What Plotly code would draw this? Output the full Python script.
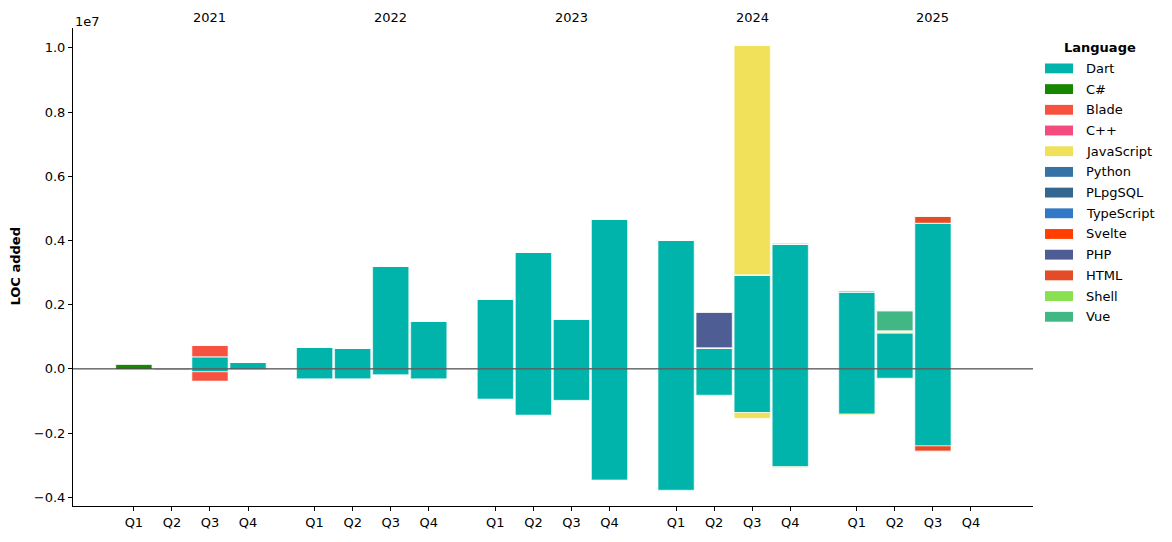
import plotly.graph_objects as go

years = ["2021", "2022", "2023", "2024", "2025"]
quarters = ["Q1", "Q2", "Q3", "Q4"]

languages = ["Dart", "C#", "Blade", "C++", "JavaScript", "Python", "PLpgSQL",
             "TypeScript", "Svelte", "PHP", "HTML", "Shell", "Vue"]
colors = ["#00B4AB", "#178600", "#f7523f", "#f34b7d", "#f1e05a", "#3572A5", "#336790",
          "#3178c6", "#ff3e00", "#4F5D95", "#e34c26", "#89e051", "#41b883"]

# LOC added (positive) per quarter, 2021Q1 .. 2025Q4
dart_add = [0, 0.03e6, 0.38e6, 0.20e6,
            0.683e6, 0.65e6, 3.20e6, 1.49e6,
            2.18e6, 3.64e6, 1.56e6, 4.67e6,
            4.01e6, 0.66e6, 2.93e6, 3.89e6,
            2.40e6, 1.13e6, 4.54e6, 0]
csharp_add = [0.165e6] + [0] * 19
blade_add = [0, 0, 0.37e6, 0] + [0] * 16
cpp_add = [0] * 16 + [0.04e6, 0, 0, 0]
js_add = [0] * 14 + [7.16e6, 0.05e6] + [0.02e6, 0.06e6, 0, 0]
python_add = [0] * 20
plpgsql_add = [0] * 20
ts_add = [0] * 20
svelte_add = [0] * 20
php_add = [0] * 13 + [1.12e6] + [0] * 6
html_add = [0] * 18 + [0.22e6, 0]
shell_add = [0] * 20
vue_add = [0] * 17 + [0.62e6, 0, 0]

# LOC removed (negative) per quarter
dart_del = [0, -0.03e6, -0.09e6, -0.02e6,
            -0.31e6, -0.31e6, -0.18e6, -0.31e6,
            -0.94e6, -1.44e6, -0.98e6, -3.46e6,
            -3.78e6, -0.82e6, -1.36e6, -3.05e6,
            -1.41e6, -0.29e6, -2.40e6, 0]
csharp_del = [0] * 20
blade_del = [0, 0, -0.29e6, 0] + [0] * 16
cpp_del = [0] * 20
js_del = [0] * 14 + [-0.18e6, -0.03e6] + [-0.03e6, 0, 0, 0]
python_del = [0] * 20
plpgsql_del = [0] * 20
ts_del = [0] * 20
svelte_del = [0] * 20
php_del = [0] * 20
html_del = [0] * 18 + [-0.165e6, 0]
shell_del = [0] * 18 + [-0.02e6, 0]
vue_del = [0] * 20

adds = [dart_add, csharp_add, blade_add, cpp_add, js_add, python_add, plpgsql_add,
        ts_add, svelte_add, php_add, html_add, shell_add, vue_add]
dels = [dart_del, csharp_del, blade_del, cpp_del, js_del, python_del, plpgsql_del,
        ts_del, svelte_del, php_del, html_del, shell_del, vue_del]

YEAR_STEP = 4.75
xs = [yi * YEAR_STEP + qi for yi in range(len(years)) for qi in range(len(quarters))]
xlabels = [q for _ in years for q in quarters]

fig = go.Figure()
for lang, col, a, d in zip(languages, colors, adds, dels):
    for vals in (a, d):
        fig.add_trace(go.Bar(
            x=xs, y=vals, name=lang, width=0.95,
            marker=dict(color=col, line=dict(color="white", width=0.6)),
            showlegend=False, hovertemplate=lang + ": %{y}<extra></extra>"))

# page geometry (px); the page body has an 8px margin
PAGE_W, PAGE_H, OFF = 1172, 542, 8
L, R, T, B = 73, 1033, 28, 513
W, H = R - L, B - T
def px(x): return (x - L) / W
def py(y): return (B - y) / H

FONT = "DejaVu Sans, Arial, sans-serif"
annotations = []
shapes = []

# year labels on top
for yi, yr in enumerate(years):
    annotations.append(dict(x=yi * YEAR_STEP + 2, y=py(17), xref="x", yref="paper",
                            text=yr, showarrow=False, font=dict(size=13, color="black"),
                            xanchor="center", yanchor="middle"))
# offset text
annotations.append(dict(x=0, y=py(21), xref="paper", yref="paper", text="1e7",
                        showarrow=False, font=dict(size=13, color="black"),
                        xanchor="left", yanchor="middle"))
# y title
annotations.append(dict(x=px(16), y=py(270), xref="paper", yref="paper",
                        text="<b>LOC added</b>", textangle=-90, showarrow=False,
                        font=dict(size=13, color="black"), xanchor="center", yanchor="middle"))

# custom legend
annotations.append(dict(x=px(1100), y=py(48), xref="paper", yref="paper",
                        text="<b>Language</b>", showarrow=False,
                        font=dict(size=13, color="black"), xanchor="center", yanchor="middle"))
for i, (lang, col) in enumerate(zip(languages, colors)):
    cy = 69 + i * 21
    shapes.append(dict(type="rect", xref="paper", yref="paper",
                       x0=px(1045), x1=px(1073), y0=py(cy + 5), y1=py(cy - 5),
                       fillcolor=col, line=dict(width=0)))
    annotations.append(dict(x=px(1084), y=py(cy), xref="paper", yref="paper",
                            text=lang, showarrow=False, font=dict(size=13, color="black"),
                            xanchor="left", yanchor="middle"))

# zero line
shapes.append(dict(type="line", xref="paper", yref="y", x0=0, x1=1, y0=0, y1=0,
                   line=dict(color="#222222", width=1), layer="above"))

ytick_vals = [-0.4e7, -0.2e7, 0, 0.2e7, 0.4e7, 0.6e7, 0.8e7, 1.0e7]
ytick_text = ["\u22120.4", "\u22120.2", "0.0", "0.2", "0.4", "0.6", "0.8", "1.0"]

fig.update_layout(
    barmode="relative",
    width=PAGE_W - OFF, height=PAGE_H - OFF,
    margin=dict(l=L - OFF, r=PAGE_W - R, t=T - OFF, b=PAGE_H - B, pad=0),
    paper_bgcolor="white", plot_bgcolor="white",
    font=dict(family=FONT, size=13, color="black"),
    showlegend=False,
    annotations=annotations, shapes=shapes,
    xaxis=dict(range=[-1.6, 23.63], tickmode="array", tickvals=xs, ticktext=xlabels,
               showgrid=False, zeroline=False, showline=True, linecolor="black",
               linewidth=1, ticks="outside", ticklen=4, tickcolor="black",
               tickfont=dict(size=13, color="black")),
    yaxis=dict(range=[-4.272e6, 10.62e6], tickmode="array", tickvals=ytick_vals,
               ticktext=ytick_text, showgrid=False, zeroline=False, showline=True,
               linecolor="black", linewidth=1, ticks="outside", ticklen=4,
               tickcolor="black", tickfont=dict(size=13, color="black")),
)

fig.write_html("out.html")
